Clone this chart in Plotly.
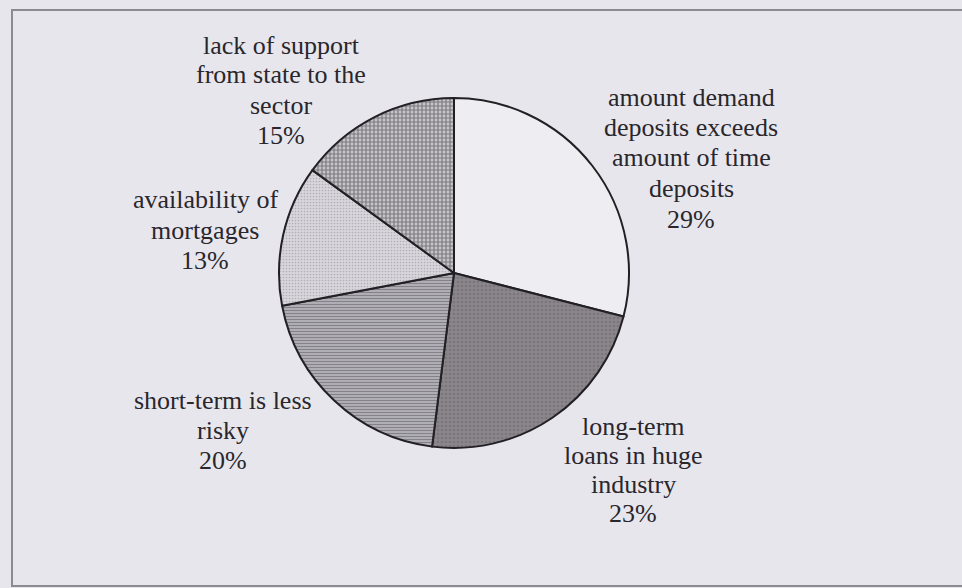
import plotly.graph_objects as go

# Survey shares: reasons cited, in clockwise order starting at 12 o'clock
label_lines = [
    ["amount demand", "deposits exceeds", "amount of time", "deposits"],
    ["long-term", "loans in huge", "industry"],
    ["short-term is less", "risky"],
    ["availability of", "mortgages"],
    ["lack of support", "from state to the", "sector"],
]
values = [29, 23, 20, 13, 15]

# Label anchors in pixels: (centre x, centre y of first line, line step)
label_pos = [
    (691, 97, 30.5),
    (633, 426, 29),
    (223, 400, 30),
    (205, 200, 30),
    (281, 45, 30),
]

W, H = 962, 588
BG = "#e8e6ed"
INK = "#29272c"

labels = [" ".join(lines) for lines in label_lines]
fills = ["#eeedf2", "#8a868b", "#c4c2c8", "#d8d6dc", "#c6c4ca"]

fig = go.Figure()
fig.add_trace(go.Pie(
    labels=labels,
    values=values,
    sort=False,
    direction="clockwise",
    rotation=0,
    textinfo="none",
    hoverinfo="label+percent",
    showlegend=False,
    domain=dict(x=[(454 - 175) / W, (454 + 175) / W],
                y=[1 - (273 + 175) / H, 1 - (273 - 175) / H]),
    marker=dict(
        colors=fills,
        line=dict(color="#222024", width=2),
        pattern=dict(
            shape=["", ".", "-", ".", "+"],
            fillmode="overlay",
            bgcolor=fills,
            fgcolor=["#eeedf2", "#6a666b", "#444248", "#8c8a90", "#2f2d32"],
            size=[4, 4, 3, 3, 4],
            solidity=[0.2, 0.35, 0.55, 0.25, 0.5],
        ),
    ),
))

# Slice labels: category text followed by its share
annotations = []
for lines, v, (cx, y0, step) in zip(label_lines, values, label_pos):
    for i, line in enumerate(lines + [f"{v}%"]):
        annotations.append(dict(
            x=cx / W, y=1 - (y0 + i * step) / H,
            xref="paper", yref="paper",
            xanchor="center", yanchor="middle",
            text=line, showarrow=False,
            font=dict(family="Liberation Serif, Times New Roman, serif",
                      size=26, color=INK),
        ))

fig.update_layout(
    width=W, height=H,
    margin=dict(l=0, r=0, t=0, b=0),
    paper_bgcolor=BG,
    plot_bgcolor=BG,
    annotations=annotations,
    shapes=[dict(
        type="rect", xref="paper", yref="paper",
        x0=12 / W, x1=1.02, y0=1 - 586 / H, y1=1 - 10 / H,
        line=dict(color="#8d8b91", width=2),
        fillcolor="rgba(0,0,0,0)",
    )],
)

fig.write_html("out.html")
